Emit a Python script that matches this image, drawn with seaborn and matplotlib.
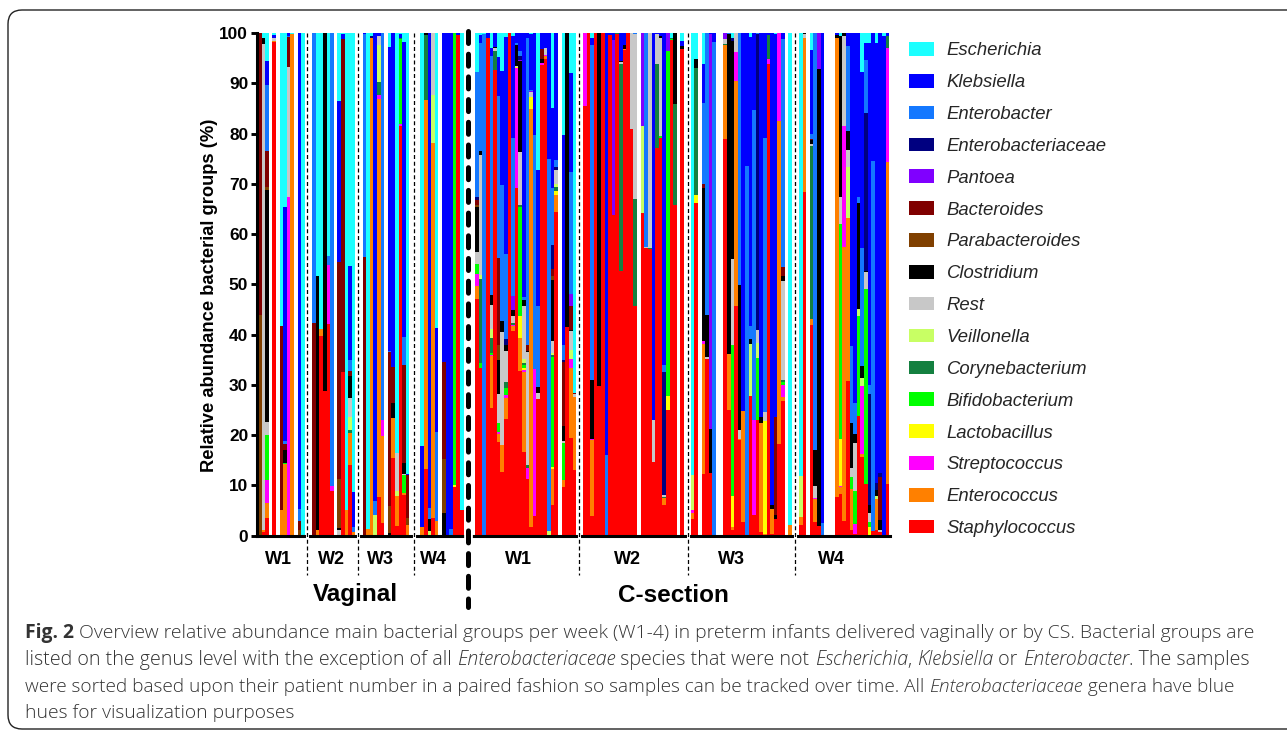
import re
import numpy as np
import pandas as pd
import seaborn as sns
import matplotlib
matplotlib.use("Agg")
import matplotlib.pyplot as plt
from matplotlib.lines import Line2D
from matplotlib.patches import Patch, PathPatch
from matplotlib.path import Path

sns.set_theme(style="white")
plt.rcParams['font.family'] = ['Liberation Sans', 'DejaVu Sans']

GENERA = ["Escherichia", "Klebsiella", "Enterobacter", "Enterobacteriaceae", "Pantoea",
          "Bacteroides", "Parabacteroides", "Clostridium", "Rest", "Veillonella",
          "Corynebacterium", "Bifidobacterium", "Lactobacillus", "Streptococcus",
          "Enterococcus", "Staphylococcus"]
CODES = list("EHGFTDAKRVCBLPNS")
COLORS = ["#1CFFFF", "#0000FF", "#1478FF", "#000080", "#8000FF", "#800000", "#804000", "#000000",
          "#C8C8C8", "#C8FF64", "#148040", "#00FF00", "#FFFF00", "#FF00FF", "#FF8000", "#FF0000"]

# each sample: genus code + cumulative top (%), from the bottom of the bar upward
V_W1 = ["A44 D100", "S0.8 N1.2 R97.8 K99 E100",
        "S3.5 N6.5 P11.1 B20.1 R22.6 K68.7 A69.3 D76.6 G89.7 H94.4 E100", "",
        "S98.2 N98.4 R99 H99.6 E100", "", "N5.1 D41.7 E100",
        "N14.2 B14.4 K17 D18.2 G18.8 H65.4 E100", "P67.4 R93.2 D99.2 G99.4 H100", "N99.8 E100", "",
        "A1.1 D2.9 G5.3 H100", "E100"]
V_W2 = ["D42.3 G100", "N1.1 K51.7 E100", "S39.7 N41.1 E100", "S28.8 K100", "S42.1 P53.9 G55.7 E100",
        "S8.9 P9.9 G100", "", "R1.1 K1.5 A11.3 D54.5 H86.5 E100", "S32.5 E32.7 D99 H100", "N5.1 E100",
        "S14 N20.4 C21 V23.6 R27.4 K31.7 D32.7 G34.9 H53.7 E100", "N0.7 G1.7 H8.7 E100"]
V_W3 = ["D55.5 G99.8 H100", "N1.3 E100", "N99 L99.1 F99.4 E100", "V4.1 K4.2 G6.9 H100",
        "S7.7 N86.9 P87.7 C90.3 V97.6 R99.4 H100", "S2.5 N19.8 P23 G100", "",
        "K0.5 A5.9 D36.5 G36.7 H97.2 E100", "S15.4 N23.4 K26.4 D33.5 H100", "S1.9 N7.9 V8.9 R16.4 E100",
        "S81.5 P81.9 B98.8 C99 H99.8 E100", "S8.1 N8.5 B12 R12.3 K14.4 D33.9 G39.5 H98.2 E100",
        "N2.1 A3.5 D12.1 H12.3 E100"]
V_W4 = ["", "N1.7 H17.8 E100", "S13.3 N86.7 C99.6 K100", "V0.9 K3.3 G5.5 H100", "S3.5 N78.2 V87.7 R100",
        "N2.9 G20.6 H41.3 E100", "", "K4.5 A15.2 D34.5 H100", "H100", "G1.3 H100", "S9.7 L10 B100",
        "S99.6 H100", "S5.1 E100"]
C_W1 = ["S47 N49.7 P52 B54 R56.5 K65.4 A65.8 D66.7 F67.3 G92.2 E100",
        "S33.4 B34.3 C51.1 V51.9 R75.7 K76.5 G98 H99.6 E100", "G99.8 E100", "S99 H100",
        "S25.4 N35.7 P35.9 B36.3 C39.3 V41.1 R45.9 K47.8 G95.4 H97 E100",
        "S92.6 C96.4 R97 K97.2 H100",
        "S18.6 N20.2 P20.6 B22.4 R28.2 K34.9 A37.9 D55.3 G87.5 H95.2 E100",
        "S12.7 N18 R40.5 K42.7 G69.8 H92.4 E100",
        "S23.2 N27.4 P28 B29.4 C30.5 R36.7 K37.9 F39.1 G56 H99.2 E100", "S100",
        "S40.7 N41.7 P42 C42.3 R43.7 K44.9 T47.6 G79.1 H99.4 E100",
        "S69.2 L69.4 P93.2 R93.4 K97.6 G98 H100",
        "S32.7 N39.3 L43.7 B65.4 C65.8 R76.3 K94.4 T94.6 F95.4 G96.4 H100",
        "S16.6 N32.5 P32.9 L33.3 B33.9 C34.3 V35.1 R45.7 K46.9 G47.4 H100",
        "S11.3 P13.5 C14 R36.5 K36.7 D37.9 G99 H100",
        "S1.7 N84.9 L87.2 R88.2 T88.5 G88.7 H99.8 E100", "S3.9 P33.1 G79.7 H100",
        "S27.2 R28.4 K29.6 G45.7 H72.8 E100", "S93.6 P94 K94.8 D96.8 H100",
        "S94.8 N95.4 P95.6 R97 H100", "V0.9 G74.9 H100",
        "S6.1 N13.3 L13.7 B35.5 C35.9 V36.3 R38.7 K50.9 A51.7 D53.1 F57.9 G69.2 H85.1 E100",
        "S64.4 N67.8 L68.6 C69.4 V70 R72.8 F73.3 G74.8 H100", "",
        "S9.7 N11.1 B18.4 R18.8 K21.8 D34.5 F34.9 G37.9 H79.7 E100", "S41.5 K100",
        "S19.4 N33.3 P35.1 V36.9 R40.7 K40.9 D45.7 T48 G72.4 H92 E100", "S13 N27.6 R28.2 D28.4 E100"]
C_W2 = ["S85.5 P100", "S100", "S3.9 N19 P19.2 K31 G97.6 H99 E100", "S100", "S29.8 K100", "S100",
        "G16 H100", "S99.6 H100", "S63.8 T98.6 H100", "S99.8 C100", "S52.7 C93.8 R94.2 K94.4 H100",
        "S96.6 N96.8 K97.6 H100", "S100", "S80.9 R100", "S45.7 C67 R99.8 G100", "",
        "S64.2 V81.5 T100", "S57.3 R57.5 G100", "S57.1 C57.3 R100", "S14.6 R23 H100",
        "S77.1 C93.8 R99.8 H100", "S79.1 B79.5 R99 K99.4 H100", "S6.1 N7.5 C7.7 R8.1 F32.5 G33.9 H100",
        "S25 L27.8 B96.4 T100", "S98.6 B98.8 C99 E100", "S65.8 C85.9 K100", "", "S96.8 K97.4 H98.4 E100"]
C_W3 = ["S3.3 N4.5 P5.1 V12.1 E100", "S66.2 L67.8 C93 K94.8 E100", "",
        "S12.3 N38.1 P38.7 K69.2 D70 G86.1 H93.8 E100", "S35.1 R35.5 K43.9 G100",
        "S12.5 K21.2 T99.8 H100", "G98.2 H100", "", "", "S78.9 N97.6 C97.8 R98.8 T100",
        "S25 N36.1 K99.8 G100", "S1.1 N1.7 L7.9 B37.9 R55 K98.4 F99 E100", "S45.7 N90.5 P96.2 R100",
        "S19 N19.2 R21 K49.9 G100", "S2.7 N24.8 H100", "G73.6 H100",
        "S27.8 V38.1 K39.1 G41.7 H99.2 E100", "S4.1 P23 G84.7 H100",
        "S23 B35.3 V38.3 R40.9 F99.8 G100", "S0.7 N22.4 K23.6 H100", "N0.3 L22.8 R24.6 G79.1 H100",
        "S93.8 P94.8 C99.6 H100", "S0.3 N5.3 K6.1 H100", "S3.3 K4.1 D23.6 H99.8 E100", "S18.2 N82.5 P100",
        "S26.8 N27.6 P30 B30.5 C30.9 R50.7 K51.6 D53.5 G98.8 H100", "", "N2.1 E100"]
C_W4 = ["S2.1 N3.7 V11.9 E100", "S68.4 N99 R99.8 K100", "",
        "S41.9 N43.1 C77.5 R78 K78.7 D78.9 G79.9 H96.6 E100", "S2.7 N7.3 P7.5 R9.9 K17 G100",
        "S1.9 K92.8 T100", "G2.5 H100", "", "", "", "S7.7 N99 K99.6 H100",
        "S8.3 N9.7 P9.9 L19.2 B62 R67.4 K99.4 E100", "S2.9 N57.5 P81.5 R99.4 K100",
        "S30.7 N63.2 V73.3 R76.7 K80.5 G97.4 H100", "S1.1 N9.3 B11.7 R13.5 K22.4 G37.7 H100",
        "S0.3 P2.3 B8.9 R18.4 K20.2 G26.4 H100", "S23.8 B43.7 V45.1 K66.2 G67.4 H100",
        "S15.6 N16.2 P29.8 V31.3 K33.7 G57.3 H92.2 E100", "S10.3 B49.1 R52.5 K52.7 F84.1 G94.6 H98 E100",
        "L1.7 B2.7 R4.5 K6.1 F28.2 G30 H98 E100", "S0.9 G74.6 H100", "S1.1 N7.3 V7.9 K9.1 F10.5 H98 E100",
        "S0.7 R1.1 K3.1 D11.7 F12.5 H100", "H99.4 E100", "S10.3 N74.4 P97 C99.4 H100"]

GROUPS = [V_W1, V_W2, V_W3, V_W4, C_W1, C_W2, C_W3, C_W4]
GROUP_STARTS = [0, 15, 29, 44, 60.2, 90.1, 120, 150]   # slot units

code_to_genus = dict(zip(CODES, GENERA))
rows, edges = [], set()
for start, group in zip(GROUP_STARTS, GROUPS):
    for i, sample in enumerate(group):
        x0, x1 = round(start + i, 3), round(start + i + 1, 3)
        edges.update([x0, x1])
        prev = 0.0
        for code, top in re.findall(r"([A-Z])([\d.]+)", sample):
            top = float(top)
            rows.append({"x": (x0 + x1) / 2, "genus": code_to_genus[code], "value": top - prev})
            prev = top
df = pd.DataFrame(rows)

W, H = 1287, 732
fig = plt.figure(figsize=(W / 100, H / 100), dpi=100, facecolor="white")
AX_L, AX_R, AX_T, AX_B = 256.5, 890, 33, 535.7
ax = fig.add_axes([AX_L / W, 1 - AX_B / H, (AX_R - AX_L) / W, (AX_B - AX_T) / H])

sns.histplot(data=df, x="x", weights="value", hue="genus", hue_order=GENERA,
             palette=dict(zip(GENERA, COLORS)), multiple="stack", bins=sorted(edges),
             element="bars", alpha=1, linewidth=0, antialiased=False, legend=False, ax=ax)
ax.set_xlim((AX_L - 258) / 3.607, (AX_R - 258) / 3.607)
ax.set_ylim(0, 100)
ax.set_xticks([])
ax.set_xlabel("")
ax.set_yticks(range(0, 101, 10))
ax.tick_params(axis="y", left=True, length=4, width=2.1, pad=2, color="black", labelcolor="black")
for t in ax.get_yticklabels():
    t.set_fontweight("bold")
    t.set_fontsize(12.4)
ax.set_ylabel("Relative abundance bacterial groups (%)", fontweight="bold", fontsize=13.25, color="black")
ax.yaxis.set_label_coords((218 - AX_L) / (AX_R - AX_L), 0.478)
for s in ["top", "right"]:
    ax.spines[s].set_visible(False)
for s in ["left", "bottom"]:
    ax.spines[s].set_linewidth(2.2)
    ax.spines[s].set_color("black")
    ax.spines[s].set_zorder(5)

# overlay in pixel coordinates
ov = fig.add_axes([0, 0, 1, 1], facecolor="none")
ov.set_xlim(0, W)
ov.set_ylim(H, 0)
ov.axis("off")

# thin dividers
for xd in [307, 357.7, 413.7, 579, 687.7, 795]:
    ov.add_line(Line2D([xd, xd], [33, 575], color="white", lw=2.2))
    ov.add_line(Line2D([xd, xd], [33, 575], color="black", lw=0.9, dashes=(3.2, 2.2)))
# thick divider
ov.add_line(Line2D([468.3, 468.3], [30, 608], color="white", lw=6.3))
ov.add_line(Line2D([468.3, 468.3], [30.5, 607], color="black", lw=3.6, dashes=(2.4, 2.14), dash_capstyle="round"))

for xt, lab in zip([278, 331, 380, 433, 518, 627, 731, 831], ["W1", "W2", "W3", "W4"] * 2):
    ov.text(xt, 560, lab, ha="center", va="center", fontweight="bold", fontsize=13, color="black")
ov.text(355, 595, "Vaginal", ha="center", va="center", fontweight="bold", fontsize=17.5, color="black")
ov.text(673, 595, "C-section", ha="center", va="center", fontweight="bold", fontsize=17.5, color="black")

# legend
handles = [Patch(facecolor=c, edgecolor="none", label=g) for g, c in zip(GENERA, COLORS)]
leg = fig.legend(handles=handles, loc="upper left", bbox_to_anchor=(909 / W, 1 - 42 / H), frameon=False,
                 prop={"style": "italic", "size": 13.3}, handlelength=1.35, handleheight=0.76,
                 labelspacing=0.79, handletextpad=0.7, borderaxespad=0, borderpad=0)

# frame
k = 14
verts = [(W + 2, 10), (8 + k, 10), (8, 10), (8, 10 + k), (8, 729 - k), (8, 729), (8 + k, 729), (W + 2, 729)]
codes = [Path.MOVETO, Path.LINETO, Path.CURVE3, Path.CURVE3, Path.LINETO, Path.CURVE3, Path.CURVE3, Path.LINETO]
ov.add_patch(PathPatch(Path(verts, codes), facecolor="none", edgecolor="#222222", lw=1.0))

# caption built from styled runs
CAPTION = [
    [("Fig. 2", "bold"), (" Overview relative abundance main bacterial groups per week (W1-4) in preterm infants delivered vaginally or by CS. Bacterial groups are", "normal")],
    [("listed on the genus level with the exception of all ", "normal"), ("Enterobacteriaceae", "italic"), (" species that were not ", "normal"), ("Escherichia", "italic"), (", ", "normal"), ("Klebsiella", "italic"), (" or ", "normal"), ("Enterobacter", "italic"), (". The samples", "normal")],
    [("were sorted based upon their patient number in a paired fashion so samples can be tracked over time. All ", "normal"), ("Enterobacteriaceae", "italic"), (" genera have blue", "normal")],
    [("hues for visualization purposes", "normal")],
]
CAP_SIZES = [13.93, 14.1, 13.7, 13.9]
renderer = fig.canvas.get_renderer()
for y, size, line in zip([633, 660, 687, 713], CAP_SIZES, CAPTION):
    x = 25
    for txt, st in line:
        t = ov.text(x, y, txt, va="center", ha="left", family=["Open Sans", "DejaVu Sans"], fontsize=size, color="#333333",
                    fontweight="bold" if st == "bold" else "light", style="italic" if st == "italic" else "normal")
        probe = ov.text(0, 0, txt.replace(" ", "\u00a0"), family=["Open Sans", "DejaVu Sans"], fontsize=size,
                        fontweight=t.get_fontweight(), style=t.get_style())
        x += probe.get_window_extent(renderer).width
        probe.remove()

fig.savefig("out.png", dpi=100, facecolor="white")
